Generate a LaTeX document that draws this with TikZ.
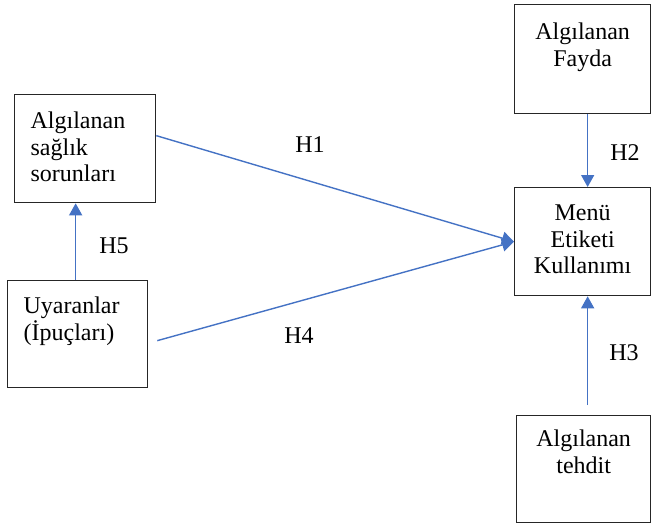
\documentclass[tikz,border=0pt]{standalone}
\usepackage{fontspec}
\setmainfont{Liberation Serif}
\usetikzlibrary{arrows.meta}
\definecolor{okmavi}{HTML}{4472C4}

\begin{document}
\begin{tikzpicture}[x=1pt,y=-1pt,
  kutu/.style={draw=black!85,line width=1.3pt,anchor=north west,inner xsep=16pt,inner ysep=0pt,font=\fontsize{24}{26.5}\selectfont},
  ok/.style={okmavi,line width=1.4pt,-{Triangle[length=12pt,width=13pt]}},
  hip/.style={font=\fontsize{24}{26.5}\selectfont,anchor=base,inner sep=0pt}]
\useasboundingbox (0,0) rectangle (652,527); % --- picture frame

% --- left boxes
\node[kutu,text width=109pt,align=left,text height=34pt,text depth=74pt] (sorun) at (14,94) {Algılanan\\sağlık\\sorunları};
\node[kutu,text width=108pt,align=left,text height=33pt,text depth=74pt] (uyaran) at (7,280) {Uyaranlar\\(İpuçları)};

% --- right boxes
\node[kutu,text width=104pt,align=center,text height=35pt,text depth=74pt] (fayda) at (514,4) {Algılanan\\Fayda};
\node[kutu,text width=104pt,align=center,text height=33pt,text depth=75pt] (menu) at (514,187) {Menü\\Etiketi\\Kullanımı};
\node[kutu,text width=102pt,align=center,text height=31pt,text depth=76pt] (tehdit) at (516,415) {Algılanan\\tehdit};

% --- hypotheses
\draw[ok] ([yshift=13pt]sorun.east) -- (menu.west); % H1
\draw[ok] ([xshift=9pt,yshift=-6.5pt]uyaran.east) -- (menu.west); % H4
\draw[ok] ([xshift=-2pt]uyaran.north) -- ([xshift=-2pt]uyaran.north |- sorun.south); % H5
\draw[ok] ([xshift=5pt]fayda.south) -- ([xshift=5pt]fayda.south |- menu.north); % H2
\draw[ok] ([xshift=4pt,yshift=10pt]tehdit.north) -- ([xshift=4pt]tehdit.north |- menu.south); % H3

% ----- labels of the arrows
\node[hip] (h1) at (310,152) {H1};
\node[hip] (h2) at (625,160) {H2};
\node[hip] (h3) at (624,360) {H3};
\node[hip] (h4) at (299,343) {H4};
\node[hip] (h5) at (114,253) {H5};
\end{tikzpicture}
\end{document}
